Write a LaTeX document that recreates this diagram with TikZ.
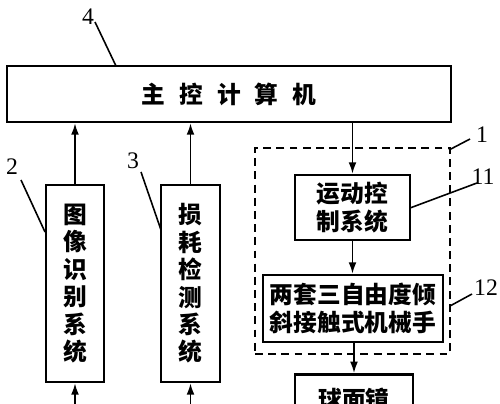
\documentclass[tikz,border=0pt]{standalone}
\usepackage{fontspec}
\setmainfont{Liberation Serif}
\newfontfamily\cjk{Noto Sans CJK SC}
\usetikzlibrary{arrows.meta}
\begin{document}
\begin{tikzpicture}[x=0.02cm,y=-0.02cm,
  box/.style={draw,line width=1.5pt,inner sep=0pt,align=center,font=\cjk\bfseries\fontsize{13.5}{16}\selectfont},
  vbox/.style={box,font=\cjk\bfseries\fontsize{13.5}{15.6}\selectfont},
  dbox/.style={draw,line width=1.1pt,dash pattern=on 4.5pt off 3pt,inner sep=0pt},
  arr/.style={line width=0.9pt,-{Latex[length=6.5pt,width=4.5pt]}},
  lead/.style={line width=0.9pt},
  num/.style={inner sep=0pt,font=\fontsize{13.5}{14}\selectfont}]
\useasboundingbox (0,0) rectangle (500,404);
\clip (0,0) rectangle (500,404);
% boxes
\node[box,minimum width=8.88cm,minimum height=1.12cm] (main) at (229,94)
  {主\hspace{8pt}控\hspace{8pt}计\hspace{8pt}算\hspace{8pt}机};
\node[vbox,minimum width=1.16cm,minimum height=3.94cm] (img) at (75,283.5)
  {图\\像\\识\\别\\系\\统};
\node[vbox,minimum width=1.18cm,minimum height=3.94cm] (loss) at (190.5,283.5)
  {损\\耗\\检\\测\\系\\统};
\node[dbox,minimum width=3.9cm,minimum height=4.12cm] (grp) at (352.5,251) {};
\node[box,minimum width=2.3cm,minimum height=1.3cm] (motion) at (352.5,207.5)
  {运动控\\制系统};
\node[box,minimum width=3.6cm,minimum height=1.34cm] (arm) at (353,308.5)
  {两套三自由度倾\\斜接触式机械手};
\node[box,minimum width=2.36cm,minimum height=1.0cm,anchor=north] (sph) at (354,373)
  {球面镜};
% connectors
\draw[arr] (img.north) -- (img.north |- main.south);
\draw[arr] (loss.north) -- (loss.north |- main.south);
\draw[arr] (motion.north |- main.south) -- (motion.north);
\draw[arr] (motion.south) -- (arm.north -| motion.south);
\draw[arr] (arm.south -| sph.north) -- (sph.north);
\coordinate (imgin) at (75,420);
\coordinate (lossin) at (190.5,420);
\draw[arr] (imgin) -- (img.south);
\draw[arr] (lossin) -- (loss.south);
% labels
\node[num] (l4) at (88,17) {4};
\node[num] (l2) at (12,167) {2};
\node[num] (l3) at (133,161) {3};
\node[num] (l1) at (482,135) {1};
\node[num] (l11) at (483,177) {11};
\node[num] (l12) at (486,288) {12};
\coordinate (a4) at (95,22);  \coordinate (b4) at (116,66);
\coordinate (a2) at (21,180); \coordinate (b2) at (45,232);
\coordinate (a3) at (141,172); \coordinate (b3) at (161,230);
\coordinate (a1) at (470,139); \coordinate (b1) at (449,150);
\coordinate (a11) at (477,183); \coordinate (b11) at (410,208);
\coordinate (a12) at (472,294); \coordinate (b12) at (450,306);
\draw[lead] (a4) -- (b4);
\draw[lead] (a2) -- (b2);
\draw[lead] (a3) -- (b3);
\draw[lead] (a1) -- (b1);
\draw[lead] (a11) -- (b11);
\draw[lead] (a12) -- (b12);
\end{tikzpicture}
\end{document}
